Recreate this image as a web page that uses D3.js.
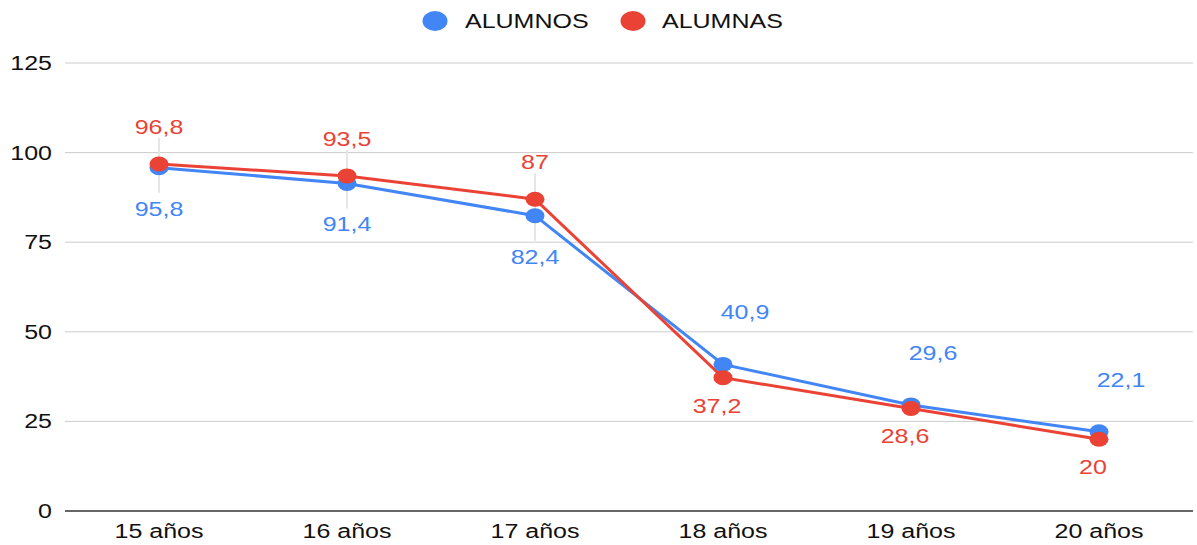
<!DOCTYPE html>
<html>
<head>
<meta charset="utf-8">
<script src="https://cdn.jsdelivr.net/npm/d3@7"></script>
<style>
  body { margin: 0; background: #fff; }
  text { font-family: "Liberation Sans", Arial, sans-serif; }
</style>
</head>
<body>
<div id="chart"></div>
<script>
const categories = ['15 años', '16 años', '17 años', '18 años', '19 años', '20 años'];
const alumnos = [95.8, 91.4, 82.4, 40.9, 29.6, 22.1];
const alumnas = [96.8, 93.5, 87, 37.2, 28.6, 20];
const yTicks = [0, 25, 50, 75, 100, 125];

const width = 1197, height = 545;
const margin = { top: 63, right: 4, bottom: 34, left: 65 };
const stretch = 1.25; // reference is horizontally stretched

const series = [
  { name: 'ALUMNOS', values: alumnos, color: '#4285F4' },
  { name: 'ALUMNAS', values: alumnas, color: '#EA4335' }
];

const svg = d3.select('#chart').append('svg')
  .attr('width', width)
  .attr('height', height);

const x = d3.scaleBand()
  .domain(categories)
  .range([margin.left, width - margin.right]);

const y = d3.scaleLinear()
  .domain([0, 125])
  .range([height - margin.bottom, margin.top]);

const cx = d => x(d) + x.bandwidth() / 2;

// helper: stretched text
function sText(g, tx, ty, str, anchor, color, size) {
  return g.append('text')
    .attr('transform', `translate(${tx},${ty}) scale(${stretch},1)`)
    .attr('text-anchor', anchor)
    .attr('fill', color)
    .style('font-size', size + 'px')
    .text(str);
}

// gridlines
svg.append('g').selectAll('line')
  .data(yTicks.filter(t => t > 0))
  .enter().append('line')
  .attr('x1', margin.left).attr('x2', width - margin.right)
  .attr('y1', d => y(d)).attr('y2', d => y(d))
  .attr('stroke', '#cccccc').attr('stroke-width', 1);

// y tick labels
const yl = svg.append('g');
yTicks.forEach(t => sText(yl, 52, y(t) + 7, t, 'end', '#111', 20));

// x labels
const xl = svg.append('g');
categories.forEach(c => sText(xl, cx(c), height - 7, c, 'middle', '#111', 20));

// leader lines for annotations (first three categories)
const leaders = svg.append('g');
categories.forEach((c, i) => {
  if (i > 2) return;
  const top = y(Math.max(alumnos[i], alumnas[i])) - 26;
  const bot = y(Math.min(alumnos[i], alumnas[i])) + 25;
  leaders.append('line')
    .attr('x1', cx(c)).attr('x2', cx(c))
    .attr('y1', top).attr('y2', bot)
    .attr('stroke', '#e6e6e6').attr('stroke-width', 2);
});

// baseline
svg.append('line')
  .attr('x1', margin.left).attr('x2', width - margin.right)
  .attr('y1', y(0)).attr('y2', y(0))
  .attr('stroke', '#333').attr('stroke-width', 1.5);

const line = d3.line()
  .x((d, i) => cx(categories[i]))
  .y(d => y(d));

series.forEach(s => {
  svg.append('path')
    .datum(s.values)
    .attr('fill', 'none')
    .attr('stroke', s.color)
    .attr('stroke-width', 3)
    .attr('d', line);
});

series.forEach(s => {
  svg.append('g').selectAll('ellipse')
    .data(s.values)
    .enter().append('ellipse')
    .attr('cx', (d, i) => cx(categories[i]))
    .attr('cy', d => y(d))
    .attr('rx', 9.5)
    .attr('ry', 7.5)
    .attr('fill', s.color);
});

// annotations
const ann = svg.append('g');
const fmt = v => String(v).replace('.', ',');
categories.forEach((c, i) => {
  const upper = alumnas[i] >= alumnos[i] ? 1 : 0;
  series.forEach((s, k) => {
    const v = s.values[i];
    let ty, dx = 0;
    if (k === upper) {
      ty = y(v) - (i < 3 ? 30 : 45);
      if (i >= 3) dx = 22;
    } else {
      ty = y(v) + (i < 3 ? 48 : 35);
      if (i >= 3) dx = -6;
    }
    sText(ann, cx(c) + dx, ty, fmt(v), 'middle', s.color, 20);
  });
});

// legend
const lg = svg.append('g');
const legendPos = [[435, 465], [633, 662]];
series.forEach((s, k) => {
  lg.append('ellipse')
    .attr('cx', legendPos[k][0]).attr('cy', 21)
    .attr('rx', 12.5).attr('ry', 10)
    .attr('fill', s.color);
  sText(lg, legendPos[k][1], 28, s.name, 'start', '#111', 20);
});
</script>
</body>
</html>
